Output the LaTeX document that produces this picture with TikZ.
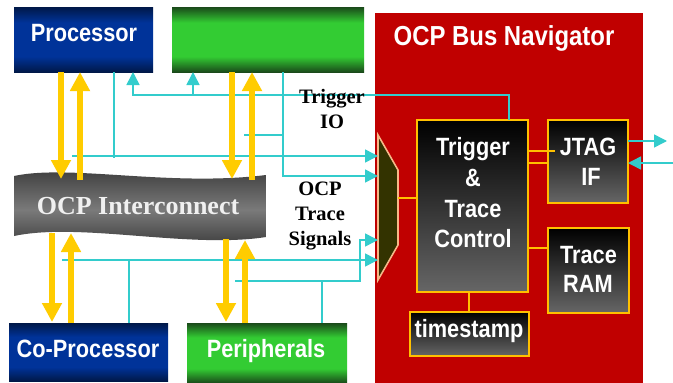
\documentclass[tikz,border=0pt]{standalone}
\usepackage{fontspec}
\setmainfont{Liberation Serif}
\setsansfont[FakeStretch=0.87]{Liberation Sans}
\usetikzlibrary{arrows.meta}
\definecolor{navyd}{HTML}{001848}
\definecolor{navym}{HTML}{003399}
\definecolor{greend}{HTML}{1A4A1A}
\definecolor{greenm}{HTML}{33CC33}
\definecolor{navred}{HTML}{C00000}
\definecolor{boxorange}{HTML}{FFC000}
\definecolor{yarr}{HTML}{FFCC00}
\definecolor{cyanl}{HTML}{33CCCC}
\definecolor{muxfill}{HTML}{333300}
\definecolor{muxedge}{HTML}{F5B888}
\definecolor{icd}{HTML}{383838}
\definecolor{icm}{HTML}{7A7A7A}
\definecolor{innerb}{HTML}{666666}
\pgfdeclareverticalshading{blueband}{100bp}{color(0bp)=(navyd); color(25bp)=(navyd); color(37bp)=(navym); color(63bp)=(navym); color(75bp)=(navyd); color(100bp)=(navyd)}
\pgfdeclareverticalshading{greenband}{100bp}{color(0bp)=(greend); color(25bp)=(greend); color(37bp)=(greenm); color(63bp)=(greenm); color(75bp)=(greend); color(100bp)=(greend)}
\pgfdeclareverticalshading{grayband}{100bp}{color(0bp)=(icd); color(25bp)=(icd); color(48bp)=(icm); color(75bp)=(icd); color(100bp)=(icd)}
\begin{document}
\begin{tikzpicture}[x=1pt,y=-1pt,
  bluebox/.style={rectangle, inner sep=0pt, shading=blueband},
  greenbox/.style={rectangle, inner sep=0pt, shading=greenband},
  navbox/.style={rectangle, inner sep=0pt, fill=navred},
  innerbox/.style={rectangle, inner sep=0pt, draw=boxorange, line width=1.6pt, top color=black, bottom color=innerb},
  sanslab/.style={text=white, font=\sffamily\bfseries\fontsize{25}{30}\selectfont, anchor=base, inner sep=0pt},
  titlelab/.style={text=white, font=\sffamily\bfseries\fontsize{27.5}{32}\selectfont, anchor=base, inner sep=0pt},
  serlab/.style={text=black, font=\rmfamily\bfseries\fontsize{20.5}{25}\selectfont, anchor=base, inner sep=0pt},
  iclab/.style={text=white!94!black, font=\rmfamily\bfseries\fontsize{26}{30}\selectfont, anchor=base, inner sep=0pt},
  yarrow/.style={draw=yarr, line width=6pt, -{Triangle[width=19pt,length=19pt]}},
  cline/.style={draw=cyanl, line width=1.5pt},
  carrow/.style={draw=cyanl, line width=1.5pt, -{Triangle[width=13pt,length=13pt]}},
  oline/.style={draw=boxorange, line width=1.6pt},
  muxstyle/.style={fill=muxfill, draw=muxedge, line width=1.6pt, line join=miter}
]
\useasboundingbox (0,0) rectangle (673,383);
\fill[white] (0,0) rectangle (673,383);

% Navigator background
\node[navbox, minimum width=268pt, minimum height=370pt] (nav) at (509,198) {};

% outer boxes
\node[bluebox, minimum width=139pt, minimum height=65pt] (proc) at (83.5,39.5) {};
\node[greenbox, minimum width=192pt, minimum height=65pt] (gtop) at (268,39.5) {};
\node[bluebox, minimum width=159pt, minimum height=58pt] (coproc) at (88.5,352) {};
\node[greenbox, minimum width=160pt, minimum height=60pt] (periph) at (267,353) {};

% interconnect banner
\shade[shading=grayband] (14,176) .. controls (70,164) and (170,187) .. (266,175)
  -- (266,237) .. controls (190,249) and (80,222) .. (14,236) -- cycle;

% inner boxes
\node[innerbox, minimum width=111pt, minimum height=172pt] (ttc) at (472.5,206) {};
\node[innerbox, minimum width=80pt, minimum height=83pt] (jtag) at (588,161.5) {};
\node[innerbox, minimum width=81pt, minimum height=85pt] (tram) at (588.5,270.5) {};
\node[innerbox, minimum width=119pt, minimum height=44pt] (ts) at (469.5,334) {};

% multiplexer
\draw[muxstyle] (378,135) -- (398,170) -- (398,245) -- (378,280) -- cycle;
\coordinate (muxout) at (398,198);

% orange internal connections
\draw[oline] (muxout) -- (ttc.west |- muxout);
\draw[oline] (528,151) -- (555,151);
\draw[oline] (528,163) -- (548,163);
\draw[oline] (528,248) -- (548,248);
\draw[oline] (469,292) -- (469,312);

% cyan signal lines
\draw[carrow] (509,120) -- (509,95) -- (133,95) -- (133,72);
\draw[carrow] (193,95) -- (193,72);
\draw[cline] (114,72) -- (114,158);
\draw[carrow] (72,156) -- (378,156);
\draw[cline] (244,135) -- (283,135);
\draw[carrow] (283,72) -- (283,176) -- (378,176);
\draw[carrow] (62,260) -- (378,260);
\draw[cline] (129,323) -- (129,260);
\draw[carrow] (235,281) -- (360,281) -- (360,240) -- (378,240);
\draw[cline] (322,323) -- (322,281);
\draw[carrow] (628,141) -- (667,141);
\draw[carrow] (673,163) -- (628,163);

% yellow bus arrows
\draw[yarrow] (61,72) -- (61,179);
\draw[yarrow] (80,180) -- (80,72);
\draw[yarrow] (232,72) -- (232,179);
\draw[yarrow] (252,180) -- (252,72);
\draw[yarrow] (52,233) -- (52,322);
\draw[yarrow] (71,323) -- (71,233);
\draw[yarrow] (226,239) -- (226,322);
\draw[yarrow] (245,323) -- (245,240);

% texts
\node[sanslab] (tproc) at (84,41) {Processor};
\node[sanslab] (tcop) at (88,357) {Co-Processor};
\node[sanslab] (tper) at (266,357) {Peripherals};
\node[titlelab] (tnav) at (504,45) {OCP Bus Navigator};
\node[sanslab] (ttc1) at (473,155) {Trigger};
\node[sanslab] (ttc2) at (473,186) {\&};
\node[sanslab] (ttc3) at (473,217) {Trace};
\node[sanslab] (ttc4) at (473,247) {Control};
\node[sanslab] (tj1) at (588,155) {JTAG};
\node[sanslab] (tj2) at (591,185) {IF};
\node[sanslab] (tr1) at (588.5,263) {Trace};
\node[sanslab] (tr2) at (588,292) {RAM};
\node[sanslab] (tts) at (469,337) {timestamp};
\node[iclab] (tic) at (138,214) {OCP Interconnect};
\node[serlab] (tio1) at (332,103) {Trigger};
\node[serlab] (tio2) at (332,128) {IO};
\node[serlab] (tos1) at (320,195) {OCP};
\node[serlab] (tos2) at (320,220) {Trace};
\node[serlab] (tos3) at (320,245) {Signals};
\end{tikzpicture}
\end{document}
